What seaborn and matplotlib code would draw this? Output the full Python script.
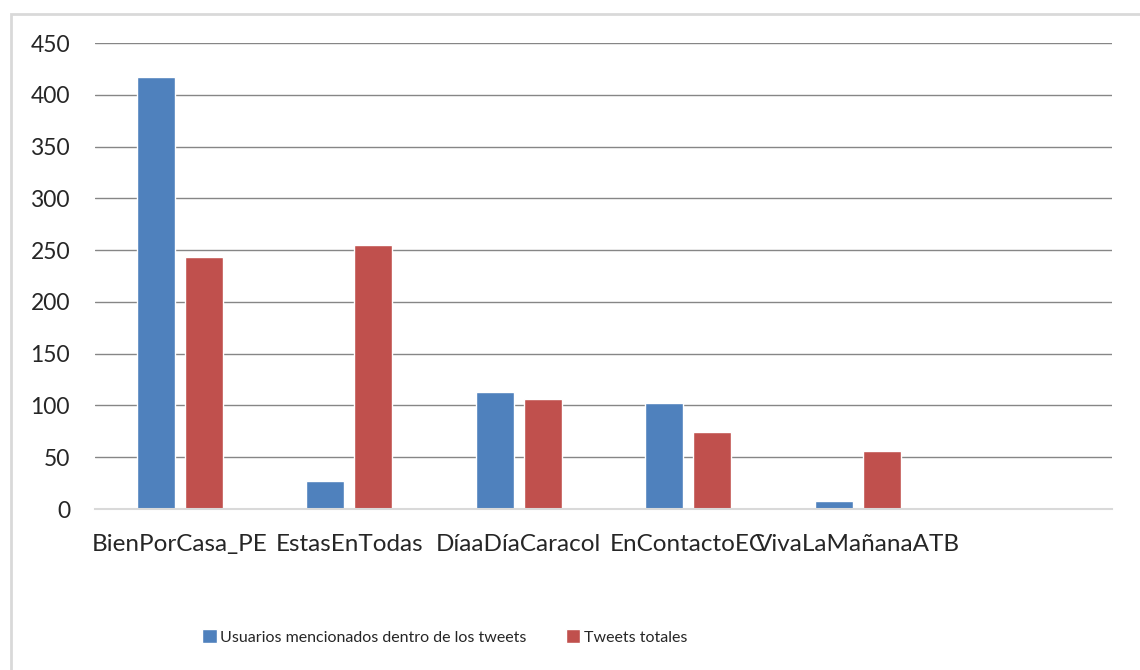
import pandas as pd
import matplotlib.pyplot as plt
import seaborn as sns
from matplotlib.patches import Rectangle

# data
categories = ['BienPorCasa_PE', 'EstasEnTodas', 'DíaaDíaCaracol', 'EnContactoEC', 'VivaLaMañanaATB']
usuarios = [417, 27, 113, 102, 8]
tweets = [243, 255, 106, 74, 56]
series_names = ['Usuarios mencionados dentro de los tweets', 'Tweets totales']
y_ticks = [0, 50, 100, 150, 200, 250, 300, 350, 400, 450]

df = pd.DataFrame({
    'cuenta': categories * 2,
    'valor': usuarios + tweets,
    'serie': [series_names[0]] * len(categories) + [series_names[1]] * len(categories),
})

sns.set_style('white')
plt.rcParams['font.family'] = ['Lato', 'DejaVu Sans']

fig = plt.figure(figsize=(11.4, 6.7), dpi=100)
ax = fig.add_axes([95 / 1140, 1 - 509 / 670, (1112 - 95) / 1140, (509 - 43) / 670])

# an empty sixth slot is left on the right like in the original
sns.barplot(data=df, x='cuenta', y='valor', hue='serie', order=categories + [''],
            palette=['#4F81BD', '#C0504D'], width=0.57, gap=0.21,
            saturation=1, ax=ax, legend=True)

ax.set_ylim(0, 450)
ax.set_xlim(-0.5, 5.5)
ax.set_yticks(y_ticks)
ax.yaxis.grid(True, color='#868686', linewidth=1)
ax.set_axisbelow(True)
for s in ['left', 'right', 'top']:
    ax.spines[s].set_visible(False)
ax.spines['bottom'].set_color('#d9d9d9')
ax.spines['bottom'].set_linewidth(1.5)
ax.tick_params(axis='y', length=0, pad=18, labelsize=16.5)
ax.tick_params(axis='x', length=0, pad=18, labelsize=17.5)
ax.set_xlabel('')
ax.set_ylabel('')

handles, labels = ax.get_legend_handles_labels()
ax.get_legend().remove()
fig.legend(handles, labels, loc='center', bbox_to_anchor=(0.39, 1 - 637 / 670),
           ncol=2, frameon=False, fontsize=11.5, handlelength=0.9, handleheight=0.9,
           handletextpad=0.2, columnspacing=2.5)

# light grey chart border
fig.patches.append(Rectangle((11 / 1140, -0.1), 1.2, 1 - 14 / 670 + 0.1, transform=fig.transFigure,
                             fill=False, edgecolor='#d9d9d9', linewidth=2))

plt.savefig('out.png', dpi=100)
